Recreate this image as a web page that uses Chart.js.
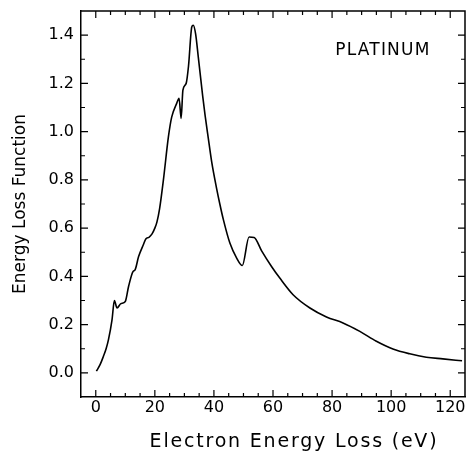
<!DOCTYPE html>
<html><head><meta charset="utf-8">
<script src="https://cdn.jsdelivr.net/npm/chart.js@4/dist/chart.umd.min.js"></script>
<style>html,body{margin:0;padding:0;background:#fff}</style>
</head><body>
<canvas id="c" width="467" height="453"></canvas>
<script>
// Electron energy loss (eV)
const energy = [0.2, 1.5, 2.6, 3.5, 4.3, 5.5, 6.3, 7.2, 8.5, 10.0, 11.1, 12.6, 13.3, 14.5, 16.1, 17.0, 18.0, 19.0, 20.0, 20.7, 21.6, 22.9, 24.6, 25.7, 27.4, 28.2, 28.9, 29.5, 30.6, 31.4, 32.5, 33.0, 33.8, 34.7, 36.2, 37.0, 38.1, 39.3, 40.9, 42.0, 43.2, 45.4, 47.7, 49.6, 51.9, 53.6, 56.1, 59.5, 62.3, 66.8, 72.5, 78.1, 83.7, 89.4, 95.0, 100.6, 106.3, 111.9, 117.5, 124.0];
// Energy loss function
const elf = [0.007, 0.035, 0.069, 0.10, 0.138, 0.22, 0.30, 0.269, 0.287, 0.296, 0.358, 0.42, 0.427, 0.482, 0.531, 0.556, 0.562, 0.575, 0.60, 0.625, 0.68, 0.80, 0.979, 1.06, 1.117, 1.138, 1.055, 1.172, 1.20, 1.272, 1.434, 1.441, 1.405, 1.31, 1.147, 1.068, 0.972, 0.87, 0.765, 0.70, 0.635, 0.538, 0.476, 0.445, 0.563, 0.561, 0.507, 0.441, 0.393, 0.324, 0.269, 0.232, 0.207, 0.172, 0.131, 0.099, 0.079, 0.065, 0.058, 0.050];
const xTicks = [0, 20, 40, 60, 80, 100, 120];
const yTicks = [0, 0.2, 0.4, 0.6, 0.8, 1.0, 1.2, 1.4];
const xRange = [-5, 125];
const yRange = [-0.1, 1.5];
const xMinorStep = 5;
const yMinorStep = 0.1;
const panelLabel = 'PLATINUM';
const xTitle = 'Electron Energy Loss (eV)';
const yTitle = 'Energy Loss Function';

const FONT = '"DejaVu Sans", "Liberation Sans", sans-serif';

const frameTicks = {
  id: 'frameTicks',
  afterLayout(chart) {
    const xs = chart.scales.x;
    if (!xs._spaced) {
      const orig = xs.drawTitle;
      xs.drawTitle = function () {
        const c = this.ctx;
        c.save();
        c.letterSpacing = '1.8px';
        c.translate(21, 0);
        orig.call(this);
        c.restore();
      };
      xs._spaced = true;
    }
  },
  afterDatasetsDraw(chart) {
    const {ctx, chartArea: a, scales: {x, y}} = chart;
    ctx.save();
    ctx.strokeStyle = '#000';
    ctx.lineWidth = 1.5;
    ctx.beginPath();
    ctx.moveTo(a.left, a.top); ctx.lineTo(a.right, a.top); ctx.lineTo(a.right, a.bottom);
    ctx.stroke();
    ctx.lineWidth = 1.2;
    ctx.beginPath();
    const kx0 = Math.ceil(x.min / xMinorStep), kx1 = Math.floor(x.max / xMinorStep);
    for (let k = kx0; k <= kx1; k++) {
      const v = k * xMinorStep;
      const px = x.getPixelForValue(v);
      if (px <= a.left + 1 || px >= a.right - 1) continue;
      const len = xTicks.some(t => Math.abs(t - v) < 1e-6) ? 7 : 4;
      ctx.moveTo(px, a.bottom); ctx.lineTo(px, a.bottom - len);
      ctx.moveTo(px, a.top); ctx.lineTo(px, a.top + len);
    }
    const ky0 = Math.ceil(y.min / yMinorStep - 1e-6), ky1 = Math.floor(y.max / yMinorStep + 1e-6);
    for (let k = ky0; k <= ky1; k++) {
      const v = k * yMinorStep;
      const py = y.getPixelForValue(v);
      if (py <= a.top + 1 || py >= a.bottom - 1) continue;
      const len = yTicks.some(t => Math.abs(t - v) < 1e-6) ? 7 : 4;
      ctx.moveTo(a.left, py); ctx.lineTo(a.left + len, py);
      ctx.moveTo(a.right, py); ctx.lineTo(a.right - len, py);
    }
    ctx.stroke();
    ctx.fillStyle = '#000';
    ctx.font = '17px ' + FONT;
    ctx.letterSpacing = '1.2px';
    ctx.textAlign = 'center';
    ctx.textBaseline = 'middle';
    ctx.fillText(panelLabel, x.getPixelForValue(97) + 0.6, y.getPixelForValue(1.335));
    ctx.restore();
  }
};

new Chart(document.getElementById('c'), {
  type: 'line',
  data: {
    datasets: [{
      data: energy.map((e, i) => ({x: e, y: elf[i]})),
      borderColor: '#000',
      borderWidth: 1.6,
      pointRadius: 0,
      fill: false,
      cubicInterpolationMode: 'monotone'
    }]
  },
  options: {
    responsive: false,
    animation: false,
    devicePixelRatio: 1,
    layout: {padding: {top: 11, right: 2, left: 0, bottom: 0}},
    plugins: {legend: {display: false}, tooltip: {enabled: false}},
    scales: {
      x: {
        type: 'linear', min: xRange[0], max: xRange[1],
        afterBuildTicks: s => { s.ticks = xTicks.map(v => ({value: v})); },
        afterFit: s => { s.height = 56; s.paddingLeft = 0; s.paddingRight = 0; },
        grid: {display: false, drawTicks: false},
        border: {display: true, color: '#000', width: 1.5},
        ticks: {color: '#000', font: {family: FONT, size: 16}, padding: 1, maxRotation: 0, callback: v => String(v)},
        title: {display: true, text: xTitle, color: '#000', font: {family: FONT, size: 19}, padding: {top: 0, bottom: 0}}
      },
      y: {
        type: 'linear', min: yRange[0], max: yRange[1],
        afterBuildTicks: s => { s.ticks = yTicks.map(v => ({value: v})); },
        afterFit: s => { s.width = 81; s.paddingTop = 0; s.paddingBottom = 0; },
        grid: {display: false, drawTicks: false},
        border: {display: true, color: '#000', width: 1.5},
        ticks: {color: '#000', font: {family: FONT, size: 16}, padding: 7, callback: v => Number(v).toFixed(1)},
        title: {display: true, text: yTitle, color: '#000', font: {family: FONT, size: 17}, padding: {top: 10, bottom: 0}}
      }
    }
  },
  plugins: [frameTicks]
});
</script>
</body></html>
